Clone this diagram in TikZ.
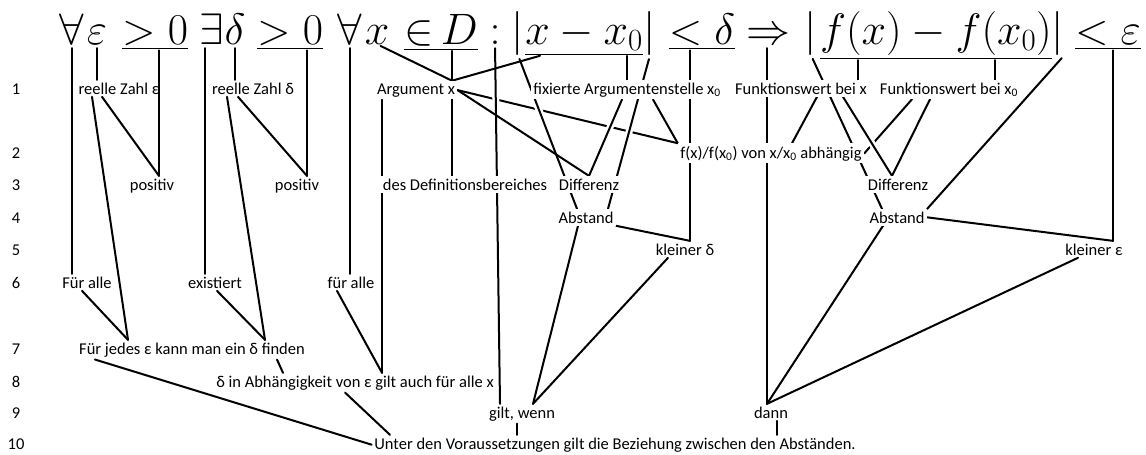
\documentclass[tikz,border=0pt]{standalone}
\usepackage{fix-cm}
\usepackage{amsmath}
\usepackage{fontspec}
\usetikzlibrary{backgrounds}
\newfontfamily\labfont{Carlito}

\begin{document}
\begin{tikzpicture}[x=1pt,y=-1pt,
    lab/.style={font=\labfont\fontsize{16.5}{19}\selectfont, anchor=base, inner sep=2.5pt},
    labc/.style={lab, fill=white},
    fml/.style={font=\fontsize{44}{50}\selectfont, anchor=base, inner sep=0pt},
    con/.style={line width=2pt, line cap=round, line join=round},
    over/.style={con, preaction={draw=white, line width=7pt}},
    gap/.style={shorten <=4pt}]
    \useasboundingbox (0,0) rectangle (1146,455);

    \node[fml] (qa)   at (72,44)   {$\forall$};
    \node[fml] (eps)  at (97,44)   {$\varepsilon$};
    \node[fml] (gza)  at (155,44)  {$\underline{>0}$};
    \node[fml] (qe)   at (212,44)  {$\exists$};
    \node[fml] (del)  at (235,44)  {$\delta$};
    \node[fml] (gzb)  at (290,44)  {$\underline{>0}$};
    \node[fml] (qb)   at (350,44)  {$\forall$};
    \node[fml] (xa)   at (377,44)  {$x$};
    \node[fml] (inD)  at (441,44)  {$\underline{{\in}\,D}$};
    \node[fml] (col)  at (495,44)  {$:$};
    \node[fml] (bl)   at (518,44)  {$|$};
    \node[fml] (xd)   at (584,44)  {$\underline{x-x_0}$};
    \node[fml] (br)   at (650,44)  {$|$};
    \node[fml] (ltd)  at (702,44)  {$\underline{<\delta}$};
    \node[fml] (impl) at (768,44)  {$\Rightarrow$};
    \node[fml] (fl)   at (811,44)  {$|$};
    \node[fml] (fd)   at (936,44)  {$\underline{f(x)-f(x_0)}$};
    \node[fml] (fr)   at (1058,44) {$|$};
    \node[fml] (lte)  at (1108,44) {$\underline{<\varepsilon}$};

    \foreach \n/\y in {1/94,2/158,3/190,4/223,5/255,6/288,7/354,8/387,9/418,10/449}
        \node[lab] (n\n) at (16,\y) {\n};

    \node[lab]  (rzE)  at (119,94) {reelle Zahl ε};
    \node[lab]  (rzD)  at (253,94) {reelle Zahl δ};
    \node[labc] (argx) at (416,94) {Argument x};
    \node[labc] (fix)  at (627,94) {fixierte Argumentenstelle x\textsubscript{0}};
    \node[labc] (fwx)  at (801,94) {Funktionswert bei x};
    \node[labc] (fwx0) at (949,94) {Funktionswert bei x\textsubscript{0}};
    \node[labc] (fdep) at (771,158) {f(x)/f(x\textsubscript{0}) von x/x\textsubscript{0} abhängig};
    \node[lab]  (pos1) at (152,190) {positiv};
    \node[lab]  (pos2) at (297,190) {positiv};
    \node[labc] (defb) at (465,190) {des Definitionsbereiches};
    \node[labc] (dif1) at (589,190) {Differenz};
    \node[labc] (dif2) at (898,190) {Differenz};
    \node[labc] (abs1) at (586,223) {Abstand};
    \node[labc] (abs2) at (897,223) {Abstand};
    \node[lab]  (kld)  at (685,255) {kleiner δ};
    \node[lab]  (kle)  at (1094,255) {kleiner ε};
    \node[lab]  (fa1)  at (87,288)  {Für alle};
    \node[lab]  (exi)  at (215,288) {existiert};
    \node[lab]  (fa2)  at (351,288) {für alle};
    \node[lab]  (jedes) at (192,354) {Für jedes ε kann man ein δ finden};
    \node[lab]  (abh)  at (355,387) {δ in Abhängigkeit von ε gilt auch für alle x};
    \node[lab]  (gw)   at (522,418) {gilt, wenn};
    \node[lab]  (dann) at (771,418) {dann};
    \node[lab]  (unter) at (615,449) {Unter den Voraussetzungen gilt die Beziehung zwischen den Abständen.};

    \coordinate (pa) at ([xshift=7pt]pos1.north);
    \coordinate (pb) at ([xshift=10pt]pos2.north);
    \coordinate (ja) at ([xshift=-64pt]jedes.north);
    \coordinate (jb) at ([xshift=73pt]jedes.north);
    \coordinate (ea) at ([xshift=-10pt]exi.north);
    \coordinate (ab) at ([xshift=27pt]abh.north);
    \coordinate (ax) at ([xshift=36pt]argx.north);
    \coordinate (dd) at ([xshift=-13pt]defb.north);
    \coordinate (kd) at ([xshift=5pt]kld.north);
    \coordinate (gj) at ([xshift=11pt]gw.north);
    \coordinate (dj) at ([xshift=-4pt]dann.north);
    \coordinate (fa) at ([xshift=57pt]fwx.north);
    \coordinate (fb) at ([xshift=46pt]fwx0.north);
    \coordinate (ke) at ([xshift=19pt]kle.north);

    \begin{scope}[on background layer]
        \draw[con] (argx.east) -- (fdep.north west);
        \draw[con] ([xshift=-37pt]fwx0.south) -- (fdep.east);

        \draw[over,gap] (col.south) -- ([xshift=-22pt]gw.north);
        \draw[over,gap] (bl.south) -- ([xshift=-9pt]abs1.north);
        \draw[over,gap] (br.south) -- ([xshift=22pt]abs1.north);
        \draw[over] ([xshift=-5pt]fix.south) -- (dif1.north);
        \draw[over,gap] (fl.south) -- ([xshift=-15pt]abs2.north);
        \draw[over] ([xshift=42pt]fwx.south) -- ([xshift=-6pt]dif2.north);

        \draw[con,gap] (qa.south) -- (qa.south |- fa1.north);
        \draw[con,gap] (eps.south) -- (eps.south |- rzE.north);
        \draw[con] (pa |- gza.south) -- (pa);
        \draw[con] ([xshift=-17pt]rzE.south) -- (pa);
        \draw[con] ([xshift=-27pt]rzE.south) -- (ja);
        \draw[con] ([xshift=-5pt]fa1.south) -- (ja);
        \draw[con,gap] (ea |- qe.south) -- (ea);
        \draw[con,gap] (del.south) -- (del.south |- rzD.north);
        \draw[con] (pb |- gzb.south) -- (pb);
        \draw[con] ([xshift=-15pt]rzD.south) -- (pb);
        \draw[con] ([xshift=-26pt]rzD.south) -- (jb);
        \draw[con] ([xshift=2pt]exi.south) -- (jb);
        \draw[con,gap] (qb.south) -- (qb.south |- fa2.north);
        \draw[con] ([xshift=-14pt]fa2.south) -- (ab);
        \draw[con] (ab |- argx.south) -- (ab);
        \draw[con] ([xshift=85pt]jedes.south) -- ([xshift=-72pt]abh.north);
        \draw[con] ([xshift=-97pt]jedes.south) -- (unter.west);
        \draw[con] ([xshift=-10pt]abh.south) -- ([xshift=-225pt]unter.north);
        \draw[con] ([xshift=-5pt]gw.south) -- ([xshift=-5pt]gw.south |- unter.north);
        \draw[con] ([xshift=6pt]dann.south) -- ([xshift=6pt]dann.south |- unter.north);

        \draw[con,gap] (xa.south) -- (ax);
        \draw[con] ([xshift=-44pt]xd.south) -- (ax);
        \draw[con] (dd |- inD.south) -- (dd);
        \draw[con] (fix.north |- xd.south) -- (fix.north);
        \draw[con] (argx.east) -- (dif1.north);
        \draw[con] ([xshift=26pt]fix.south) -- (fdep.north west);
        \draw[con] (kd |- ltd.south) -- (kd);
        \draw[con] (abs1.south east) -- (kd);
        \draw[con] ([xshift=-8pt]abs1.south) -- (gj);
        \draw[con] ([xshift=-17pt]kld.south) -- (gj);

        \draw[con,gap] (dj |- impl.south) -- (dj);
        \draw[con] (fa |- fd.south) -- (fa);
        \draw[con] (fb |- fd.south) -- (fb);
        \draw[con] ([xshift=16pt]fwx.south) -- ([xshift=21pt]fdep.north);
        \draw[con] ([xshift=-19pt]fwx0.south) -- ([xshift=-6pt]dif2.north);
        \draw[con,gap] (fr.south east) -- (abs2.north east);
        \draw[con] (ke |- lte.south) -- (ke);
        \draw[con] (abs2.east) -- (ke);
        \draw[con] ([xshift=-14pt]abs2.south) -- (dj);
        \draw[con] ([xshift=-16pt]kle.south) -- (dj);
    \end{scope}
\end{tikzpicture}
\end{document}
